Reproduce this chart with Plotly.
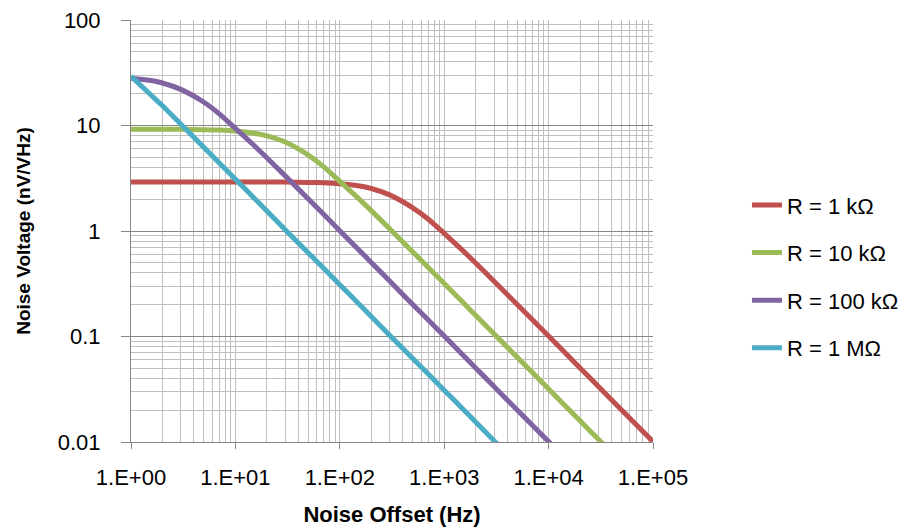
import plotly.graph_objects as go

# Frequencies (Hz) at which the curves were read
freq = [1, 1.5, 2, 3, 5, 7, 10, 15, 20, 30, 50, 70, 100, 150, 200, 300, 500, 700,
        1000, 1500, 2000, 3000, 5000, 7000, 10000, 20000, 30000, 50000, 100000]

# Noise voltage (nV/VHz)
r_1k = [2.92, 2.92, 2.92, 2.92, 2.92, 2.92, 2.92, 2.91, 2.91, 2.91, 2.89, 2.86, 2.80,
        2.68, 2.53, 2.20, 1.66, 1.30, 0.95, 0.655, 0.497, 0.334, 0.201, 0.144, 0.101,
        0.0504, 0.0336, 0.0201, 0.0101]
r_10k = [9.23, 9.23, 9.21, 9.19, 9.13, 9.05, 8.87, 8.46, 7.98, 6.97, 5.24, 4.08, 2.95,
         2.05, 1.56, 1.05, 0.633, 0.454, 0.318, 0.212, 0.159, 0.106, 0.0637, 0.0455,
         0.0318, 0.0159, 0.0106, 0.00637, 0.00318]
r_100k = [28.0, 26.8, 25.3, 22.0, 16.6, 12.9, 9.4, 6.5, 4.95, 3.33, 2.01, 1.44, 1.007,
          0.671, 0.504, 0.336, 0.201, 0.144, 0.101, 0.0671, 0.0504, 0.0336, 0.0201,
          0.0144, 0.0101, 0.00504, 0.00336, 0.00201, 0.00101]
r_1M = [29.3, 20.1, 15.4, 10.3, 6.19, 4.42, 3.10, 2.07, 1.55, 1.03, 0.62, 0.443, 0.31,
        0.207, 0.155, 0.103, 0.062, 0.0443, 0.031, 0.0207, 0.0155, 0.0103, 0.0062,
        0.00443, 0.0031, 0.00155, 0.00103, 0.00062, 0.00031]

series_names = ["R = 1 kΩ", "R = 10 kΩ", "R = 100 kΩ", "R = 1 MΩ"]
series_vals = [r_1k, r_10k, r_100k, r_1M]
colors = ["#C0504D", "#9BBB59", "#8064A2", "#4BACC6"]

x_major = [1, 10, 100, 1000, 10000, 100000]
x_labels = ["1.E+00", "1.E+01", "1.E+02", "1.E+03", "1.E+04", "1.E+05"]
y_major = [0.01, 0.1, 1, 10, 100]
y_labels = ["0.01", "0.1", "1", "10", "100"]

x_minor = [m * 10 ** d for d in range(0, 5) for m in range(2, 10)]
y_minor = [m * 10.0 ** d for d in range(-2, 2) for m in range(2, 10)]

fig = go.Figure()
for name, vals, c in zip(series_names, series_vals, colors):
    fig.add_trace(go.Scatter(x=freq, y=vals, mode="lines", name=name,
                             legendgroup=name,
                             line=dict(color=c, width=5, shape="spline", smoothing=0.6)))

font = "Liberation Sans, Arial, sans-serif"
fig.update_layout(
    width=899, height=521,
    margin=dict(l=123, r=254, t=12, b=87, autoexpand=False),
    paper_bgcolor="white", plot_bgcolor="white",
    font=dict(family=font, size=22, color="black"),
    showlegend=True,
    legend=dict(x=1.18, y=0.611, xanchor="left", yanchor="top",
                font=dict(size=22), tracegroupgap=16, bgcolor="rgba(0,0,0,0)"),
    xaxis=dict(type="log", range=[0, 5],
               tickmode="array", tickvals=x_major, ticktext=x_labels,
               showgrid=True, gridcolor="#BFBFBF", gridwidth=1,
               showline=True, linecolor="#868686", linewidth=1,
               ticks="outside", ticklen=6, tickcolor="#868686",
               ticklabelstandoff=10, ticklabeloverflow="allow",
               minor=dict(tickmode="array", tickvals=x_minor, showgrid=True,
                          gridcolor="#BFBFBF", gridwidth=1, ticks=""),
               title=dict(text="<b>Noise Offset (Hz)</b>", font=dict(size=22), standoff=17),
               zeroline=False),
    yaxis=dict(type="log", range=[-2, 2],
               tickmode="array", tickvals=y_major, ticktext=y_labels,
               showgrid=True, gridcolor="#868686", gridwidth=1,
               showline=True, linecolor="#868686", linewidth=1,
               ticks="outside", ticklen=9, tickcolor="#868686",
               ticklabelstandoff=16, ticklabeloverflow="allow",
               minor=dict(tickmode="array", tickvals=y_minor, showgrid=True,
                          gridcolor="#BFBFBF", gridwidth=1, ticks=""),
               title=dict(text="<b>Noise Voltage (nV/VHz)</b>", font=dict(size=19), standoff=22),
               zeroline=False),
)

fig.write_html("out.html")
